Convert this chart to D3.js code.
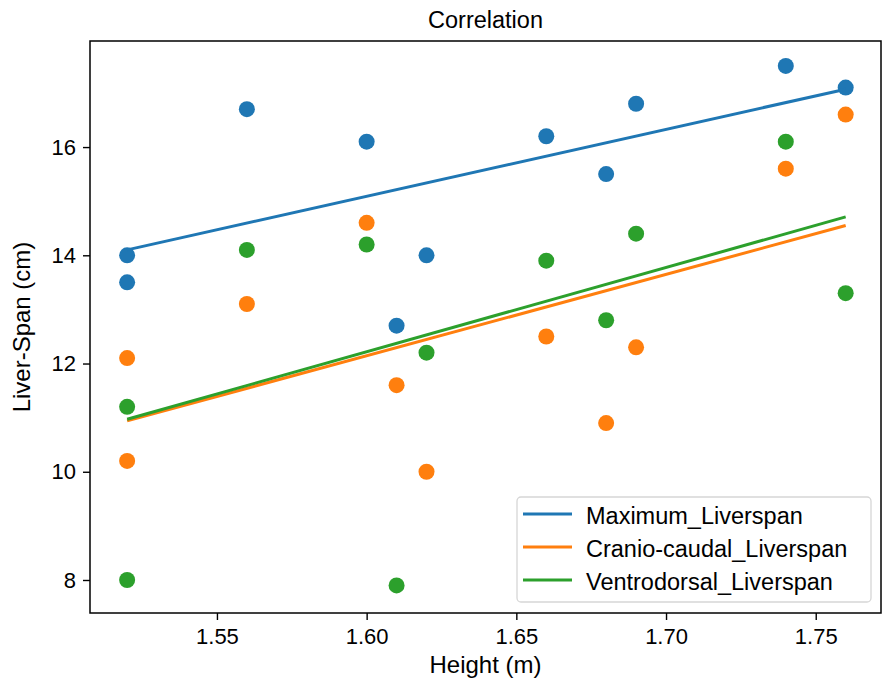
<!DOCTYPE html>
<html>
<head>
<meta charset="utf-8">
<script src="https://cdn.jsdelivr.net/npm/d3@7"></script>
<style>
  body { margin: 0; background: #fff; }
  text { font-family: "Liberation Sans", Arial, sans-serif; fill: #000; }
</style>
</head>
<body>
<svg id="chart" width="882" height="687"></svg>
<script>
// data
var heights = [1.52, 1.52, 1.56, 1.60, 1.61, 1.62, 1.66, 1.68, 1.69, 1.74, 1.76];
var maximumLiverspan = [14.0, 13.5, 16.7, 16.1, 12.7, 14.0, 16.2, 15.5, 16.8, 17.5, 17.1];
var cranioCaudalLiverspan = [12.1, 10.2, 13.1, 14.6, 11.6, 10.0, 12.5, 10.9, 12.3, 15.6, 16.6];
var ventrodorsalLiverspan = [11.2, 8.0, 14.1, 14.2, 7.9, 12.2, 13.9, 12.8, 14.4, 16.1, 13.3];

// fitted line values at first and last height
var fitHeights = [1.52, 1.76];
var maximumFit = [14.1, 17.07];
var cranioCaudalFit = [10.94, 14.55];
var ventrodorsalFit = [10.97, 14.71];

var seriesNames = ['Maximum_Liverspan', 'Cranio-caudal_Liverspan', 'Ventrodorsal_Liverspan'];
var colors = ['#1f77b4', '#ff7f0e', '#2ca02c'];

var xTicks = [1.55, 1.60, 1.65, 1.70, 1.75];
var yTicks = [8, 10, 12, 14, 16];

(function () {
  var series = [
    { name: seriesNames[0], values: maximumLiverspan, fit: maximumFit, color: colors[0] },
    { name: seriesNames[1], values: cranioCaudalLiverspan, fit: cranioCaudalFit, color: colors[1] },
    { name: seriesNames[2], values: ventrodorsalLiverspan, fit: ventrodorsalFit, color: colors[2] }
  ];

  var plotLeft = 90, plotRight = 881, plotTop = 41, plotBottom = 613;

  var svg = d3.select('#chart');

  var x = d3.scaleLinear().domain([1.5076, 1.7718]).range([plotLeft, plotRight]);
  var y = d3.scaleLinear().domain([7.39, 17.96]).range([plotBottom, plotTop]);

  // scatter (drawn below lines, like matplotlib)
  series.forEach(function (s) {
    svg.append('g').selectAll('circle')
      .data(s.values)
      .enter().append('circle')
      .attr('cx', function (d, i) { return x(heights[i]); })
      .attr('cy', function (d) { return y(d); })
      .attr('r', 8)
      .style('fill', s.color);
  });

  // fit lines
  var line = d3.line()
    .x(function (d, i) { return x(fitHeights[i]); })
    .y(function (d) { return y(d); });

  series.forEach(function (s) {
    svg.append('path')
      .datum(s.fit)
      .attr('d', line)
      .style('fill', 'none')
      .style('stroke', s.color)
      .style('stroke-width', 3);
  });

  // axes
  var xAxis = d3.axisBottom(x).tickValues(xTicks).tickFormat(d3.format('.2f')).tickSize(7).tickPadding(8);
  var yAxis = d3.axisLeft(y).tickValues(yTicks).tickFormat(d3.format('d')).tickSize(7).tickPadding(7);

  var gx = svg.append('g').attr('transform', 'translate(0,' + plotBottom + ')').call(xAxis);
  var gy = svg.append('g').attr('transform', 'translate(' + plotLeft + ',0)').call(yAxis);

  [gx, gy].forEach(function (g) {
    g.select('.domain').remove();
    g.selectAll('.tick line').style('stroke', '#000').style('stroke-width', 1.4);
    g.selectAll('.tick text').style('font-size', '22px').style('font-family', '"Liberation Sans", Arial, sans-serif');
  });

  // frame
  svg.append('rect')
    .attr('x', plotLeft).attr('y', plotTop)
    .attr('width', plotRight - plotLeft).attr('height', plotBottom - plotTop)
    .style('fill', 'none').style('stroke', '#000').style('stroke-width', 1.5);

  // title and labels
  svg.append('text')
    .attr('x', (plotLeft + plotRight) / 2).attr('y', 28)
    .attr('text-anchor', 'middle')
    .style('font-size', '23.5px')
    .text('Correlation');

  svg.append('text')
    .attr('x', (plotLeft + plotRight) / 2).attr('y', 673)
    .attr('text-anchor', 'middle')
    .style('font-size', '24px')
    .text('Height (m)');

  svg.append('text')
    .attr('transform', 'translate(30,' + (plotTop + plotBottom) / 2 + ') rotate(-90)')
    .attr('text-anchor', 'middle')
    .style('font-size', '24px')
    .text('Liver-Span (cm)');

  // legend
  var legend = svg.append('g');
  legend.append('rect')
    .attr('x', 517).attr('y', 497)
    .attr('width', 354).attr('height', 105)
    .attr('rx', 4)
    .style('fill', '#fff').style('fill-opacity', 0.8)
    .style('stroke', '#d6d6d6').style('stroke-width', 1.3);

  var items = legend.selectAll('g.item')
    .data(series)
    .enter().append('g')
    .attr('class', 'item')
    .attr('transform', function (d, i) { return 'translate(0,' + (514 + i * 33) + ')'; });

  items.append('line')
    .attr('x1', 523).attr('x2', 572)
    .attr('y1', 0).attr('y2', 0)
    .style('stroke', function (d) { return d.color; })
    .style('stroke-width', 3);

  items.append('text')
    .attr('x', 586).attr('y', 10)
    .style('font-size', '23.5px')
    .text(function (d) { return d.name; });
})();
</script>
</body>
</html>
